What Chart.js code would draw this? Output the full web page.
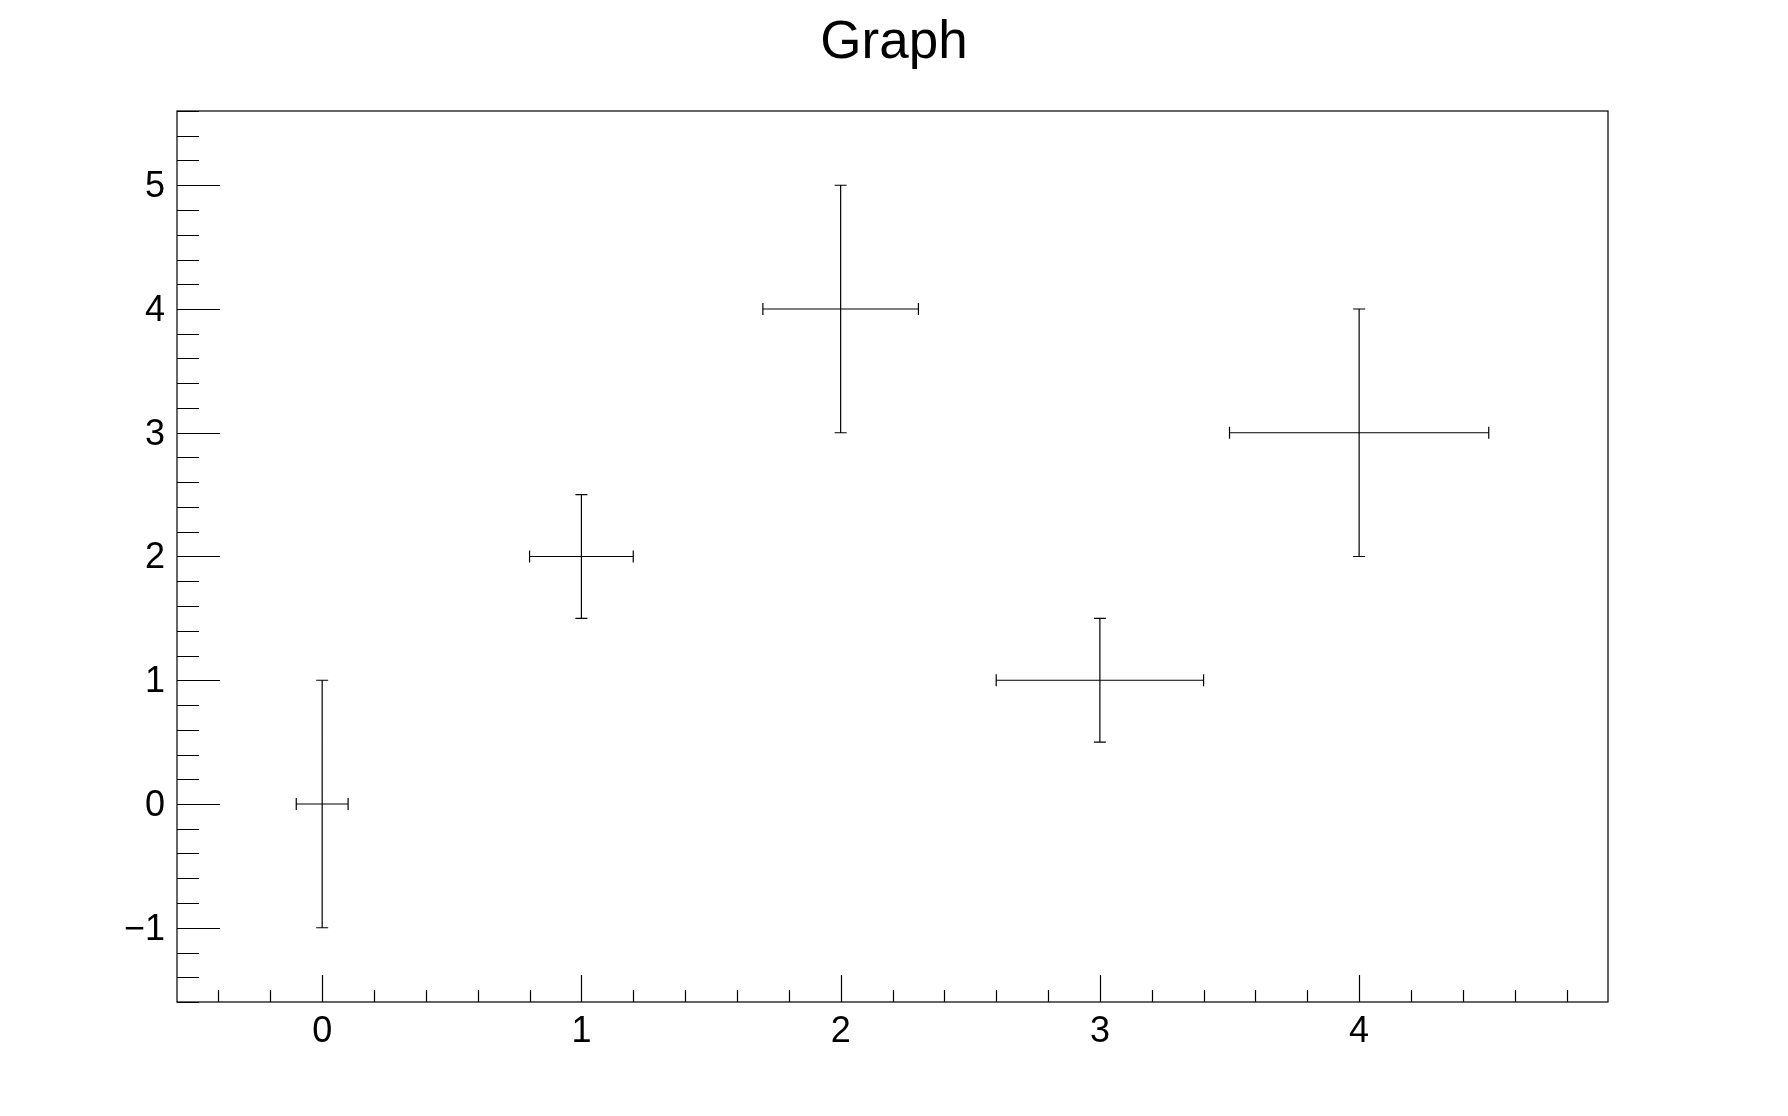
<!DOCTYPE html>
<html>
<head>
<meta charset="utf-8">
<script src="https://cdn.jsdelivr.net/npm/chart.js@4.4.1/dist/chart.umd.min.js"></script>
<style>
html,body{margin:0;padding:0;background:#fff;}
#wrap{width:1788px;height:1116px;}
</style>
</head>
<body>
<div id="wrap"><canvas id="c" width="1788" height="1116"></canvas></div>
<script>
// Data
const xValues = [0, 1, 2, 3, 4];
const yValues = [0, 2, 4, 1, 3];
const xErrLow  = [0.1, 0.2, 0.3, 0.4, 0.5];
const xErrHigh = [0.1, 0.2, 0.3, 0.4, 0.5];
const yErrLow  = [1, 0.5, 1, 0.5, 1];
const yErrHigh = [1, 0.5, 1, 0.5, 1];

const xTickLabels = [0, 1, 2, 3, 4];
const yTickLabels = [-1, 0, 1, 2, 3, 4, 5];
const xRange = [-0.56, 4.96];
const yRange = [-1.6, 5.6];
const minorDivisions = 5;
const titleText = 'Graph';

const FONT = '"Liberation Sans", Arial, Helvetica, sans-serif';

const points = xValues.map((x, i) => ({x: x, y: yValues[i]}));

const errorBarPlugin = {
  id: 'errorBars',
  afterDatasetsDraw(chart) {
    const ctx = chart.ctx;
    const xs = chart.scales.x, ys = chart.scales.y;
    const cap = 6;
    ctx.save();
    ctx.strokeStyle = '#000';
    ctx.lineWidth = 1.2;
    ctx.beginPath();
    for (let i = 0; i < xValues.length; i++) {
      const px = xs.getPixelForValue(xValues[i]);
      const py = ys.getPixelForValue(yValues[i]);
      const xl = xs.getPixelForValue(xValues[i] - xErrLow[i]);
      const xh = xs.getPixelForValue(xValues[i] + xErrHigh[i]);
      const yl = ys.getPixelForValue(yValues[i] - yErrLow[i]);
      const yh = ys.getPixelForValue(yValues[i] + yErrHigh[i]);
      ctx.moveTo(xl, py); ctx.lineTo(xh, py);
      ctx.moveTo(xl, py - cap); ctx.lineTo(xl, py + cap);
      ctx.moveTo(xh, py - cap); ctx.lineTo(xh, py + cap);
      ctx.moveTo(px, yl); ctx.lineTo(px, yh);
      ctx.moveTo(px - cap, yl); ctx.lineTo(px + cap, yl);
      ctx.moveTo(px - cap, yh); ctx.lineTo(px + cap, yh);
    }
    ctx.stroke();
    ctx.restore();
  }
};

const framePlugin = {
  id: 'rootFrame',
  afterDraw(chart) {
    const ctx = chart.ctx;
    const a = chart.chartArea;
    const xs = chart.scales.x, ys = chart.scales.y;
    ctx.save();
    ctx.strokeStyle = '#000';
    ctx.lineWidth = 1.2;
    ctx.strokeRect(a.left, a.top, a.right - a.left, a.bottom - a.top);
    ctx.beginPath();
    const xMajLen = 27, xMinLen = 12;
    const x0 = Math.floor(xRange[0]), x1 = Math.ceil(xRange[1]);
    for (let k = x0 * minorDivisions; k <= x1 * minorDivisions; k++) {
      const v = k / minorDivisions;
      if (v < xRange[0] || v > xRange[1]) continue;
      const p = Math.round(xs.getPixelForValue(v)) + 0.5;
      const len = (k % minorDivisions === 0) ? xMajLen : xMinLen;
      ctx.moveTo(p, a.bottom); ctx.lineTo(p, a.bottom - len);
    }
    const yMajLen = 43, yMinLen = 22;
    const y0 = Math.floor(yRange[0]), y1 = Math.ceil(yRange[1]);
    for (let k = y0 * minorDivisions; k <= y1 * minorDivisions; k++) {
      const v = k / minorDivisions;
      if (v < yRange[0] || v > yRange[1]) continue;
      const p = Math.round(ys.getPixelForValue(v)) + 0.5;
      const len = (k % minorDivisions === 0) ? yMajLen : yMinLen;
      ctx.moveTo(a.left, p); ctx.lineTo(a.left + len, p);
    }
    ctx.stroke();
    ctx.restore();
  }
};

const fmt = v => (v < 0 ? '\u2212' + Math.abs(v) : String(v));

new Chart(document.getElementById('c'), {
  type: 'scatter',
  data: {
    datasets: [{
      data: points,
      pointRadius: 0,
      pointHoverRadius: 0,
      showLine: false,
      borderColor: '#000',
      backgroundColor: '#000'
    }]
  },
  options: {
    responsive: false,
    animation: false,
    events: [],
    layout: { padding: 0 },
    plugins: {
      legend: { display: false },
      tooltip: { enabled: false },
      title: {
        display: true,
        text: titleText,
        color: '#000',
        font: { family: FONT, size: 53, weight: 'normal', lineHeight: 1.2 },
        padding: { top: 12, bottom: 35.4 }
      }
    },
    scales: {
      x: {
        type: 'linear',
        min: xRange[0], max: xRange[1],
        afterBuildTicks: s => { s.ticks = xTickLabels.map(v => ({value: v})); },
        afterFit: s => { s.height = 114; },
        grid: { display: false, drawTicks: false },
        border: { display: false },
        ticks: { color: '#000', font: { family: FONT, size: 36 }, padding: 8, maxRotation: 0, callback: fmt }
      },
      y: {
        type: 'linear',
        min: yRange[0], max: yRange[1],
        afterBuildTicks: s => { s.ticks = yTickLabels.map(v => ({value: v})); },
        afterFit: s => { s.width = 177; },
        grid: { display: false, drawTicks: false },
        border: { display: false },
        ticks: { color: '#000', font: { family: FONT, size: 36 }, padding: 12, labelOffset: 2, callback: fmt }
      },
      yRight: {
        type: 'linear',
        position: 'right',
        min: yRange[0], max: yRange[1],
        afterFit: s => { s.width = 180; },
        grid: { display: false, drawTicks: false },
        border: { display: false },
        ticks: { display: false }
      }
    }
  },
  plugins: [errorBarPlugin, framePlugin]
});
</script>
</body>
</html>
